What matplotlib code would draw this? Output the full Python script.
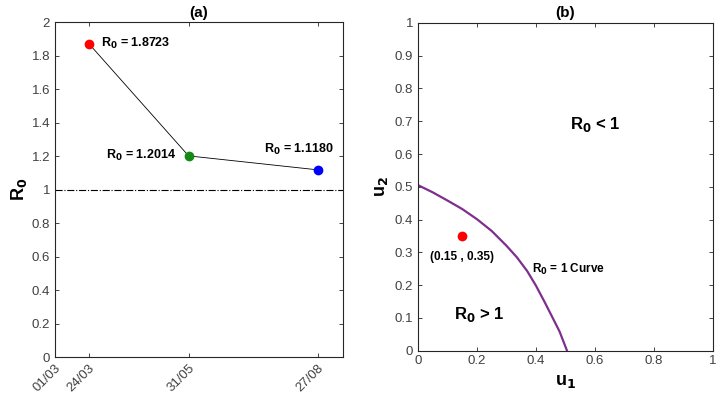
import numpy as np
import pandas as pd
import matplotlib
matplotlib.use("Agg")
import matplotlib.pyplot as plt

plt.rcParams['font.family'] = ['Liberation Sans', 'DejaVu Sans']
plt.rcParams['mathtext.default'] = 'bf'

# panel (a) data
dates = ["2020-03-24", "2020-05-31", "2020-08-27"]
r0_values = [1.8723, 1.2014, 1.1180]
point_colors = ["#ff0000", "#138a13", "#0000ff"]
tick_dates = ["2020-03-01", "2020-03-24", "2020-05-31", "2020-08-27"]
tick_labels = ["01/03", "24/03", "31/05", "27/08"]

# panel (b) data: R0 = 1 curve
u1_curve = [0.0, 0.05, 0.10, 0.15, 0.20, 0.25, 0.30, 0.335, 0.37, 0.40, 0.43, 0.452, 0.48, 0.505]
u2_curve = [0.505, 0.483, 0.458, 0.432, 0.401, 0.365, 0.320, 0.285, 0.243, 0.198, 0.147, 0.108, 0.058, 0.0]
control_point = (0.15, 0.35)

tick_col = "#404040"
fig = plt.figure(figsize=(7.17, 4.03), dpi=100)

# ---------- (a) ----------
ax1 = fig.add_axes([0.0767, 0.114, 0.4013, 0.831])
x = pd.to_datetime(dates)
ax1.plot(x, r0_values, color="black", lw=0.6, zorder=2)
for xi, yi, c in zip(x, r0_values, point_colors):
    ax1.plot(xi, yi, "o", color=c, ms=6, zorder=3)
ax1.axhline(1, color="black", lw=0.8, ls="-.")

lbl = dict(fontsize=9, fontweight="bold", textcoords="offset points")
ax1.annotate("R$_0$ = %.4f" % r0_values[0], (x[0], r0_values[0]), xytext=(9, 0), ha="left", va="center", **lbl)
ax1.annotate("R$_0$ = %.4f" % r0_values[1], (x[1], r0_values[1]), xytext=(-9, 0), ha="right", va="center", **lbl)
ax1.annotate("R$_0$ = %.4f" % r0_values[2], (x[2], r0_values[2]), xytext=(-14, 15), ha="center", va="center", **lbl)

ax1.set_xlim(pd.Timestamp("2020-03-01"), pd.Timestamp("2020-09-13"))
ax1.set_ylim(0, 2)
ax1.set_xticks(pd.to_datetime(tick_dates))
ax1.set_xticklabels(tick_labels, rotation=45, ha="right", rotation_mode="anchor")
ax1.set_yticks(np.arange(0, 2.01, 0.2))
ax1.set_yticklabels(["0", "0.2", "0.4", "0.6", "0.8", "1", "1.2", "1.4", "1.6", "1.8", "2"])
ax1.set_ylabel("R$_0$", fontsize=13, fontweight="bold", labelpad=2)
ax1.set_title("(a)", fontsize=11, fontweight="bold", pad=4)

# ---------- (b) ----------
ax2 = fig.add_axes([0.583, 0.130, 0.4114, 0.813])
ax2.plot(u1_curve, u2_curve, color="#7E2F8E", lw=1.6)
ax2.plot(*control_point, "o", color="#ff0000", ms=6)
ax2.text(0.148, 0.285, "(%.2f , %.2f)" % control_point, fontsize=8.5, fontweight="bold", ha="center", va="center")
ax2.text(0.51, 0.249, "R$_0$ = 1 Curve", fontsize=8.5, fontweight="bold", ha="center", va="center")
ax2.text(0.60, 0.69, "R$_0$ < 1", fontsize=12, fontweight="bold", ha="center", va="center")
ax2.text(0.208, 0.11, "R$_0$ > 1", fontsize=12, fontweight="bold", ha="center", va="center")
ax2.set_xlim(0, 1)
ax2.set_ylim(0, 1)
ax2.set_xticks(np.arange(0, 1.01, 0.2))
ax2.set_xticklabels(["0", "0.2", "0.4", "0.6", "0.8", "1"])
ax2.set_yticks(np.arange(0, 1.01, 0.1))
ax2.set_yticklabels(["0"] + ["%.1f" % v for v in np.arange(0.1, 0.95, 0.1)] + ["1"])
ax2.set_xlabel("u$_1$", fontsize=13, fontweight="bold", labelpad=4)
ax2.set_ylabel("u$_2$", fontsize=13, fontweight="bold", labelpad=3)
ax2.set_title("(b)", fontsize=11, fontweight="bold", pad=4)

for ax in (ax1, ax2):
    ax.tick_params(direction="in", top=True, right=True, length=3, width=0.6,
                   labelsize=9.5, labelcolor=tick_col, color="#262626")
    for s in ax.spines.values():
        s.set_color("#262626")
        s.set_linewidth(0.8)

fig.savefig("out.png", dpi=100)
